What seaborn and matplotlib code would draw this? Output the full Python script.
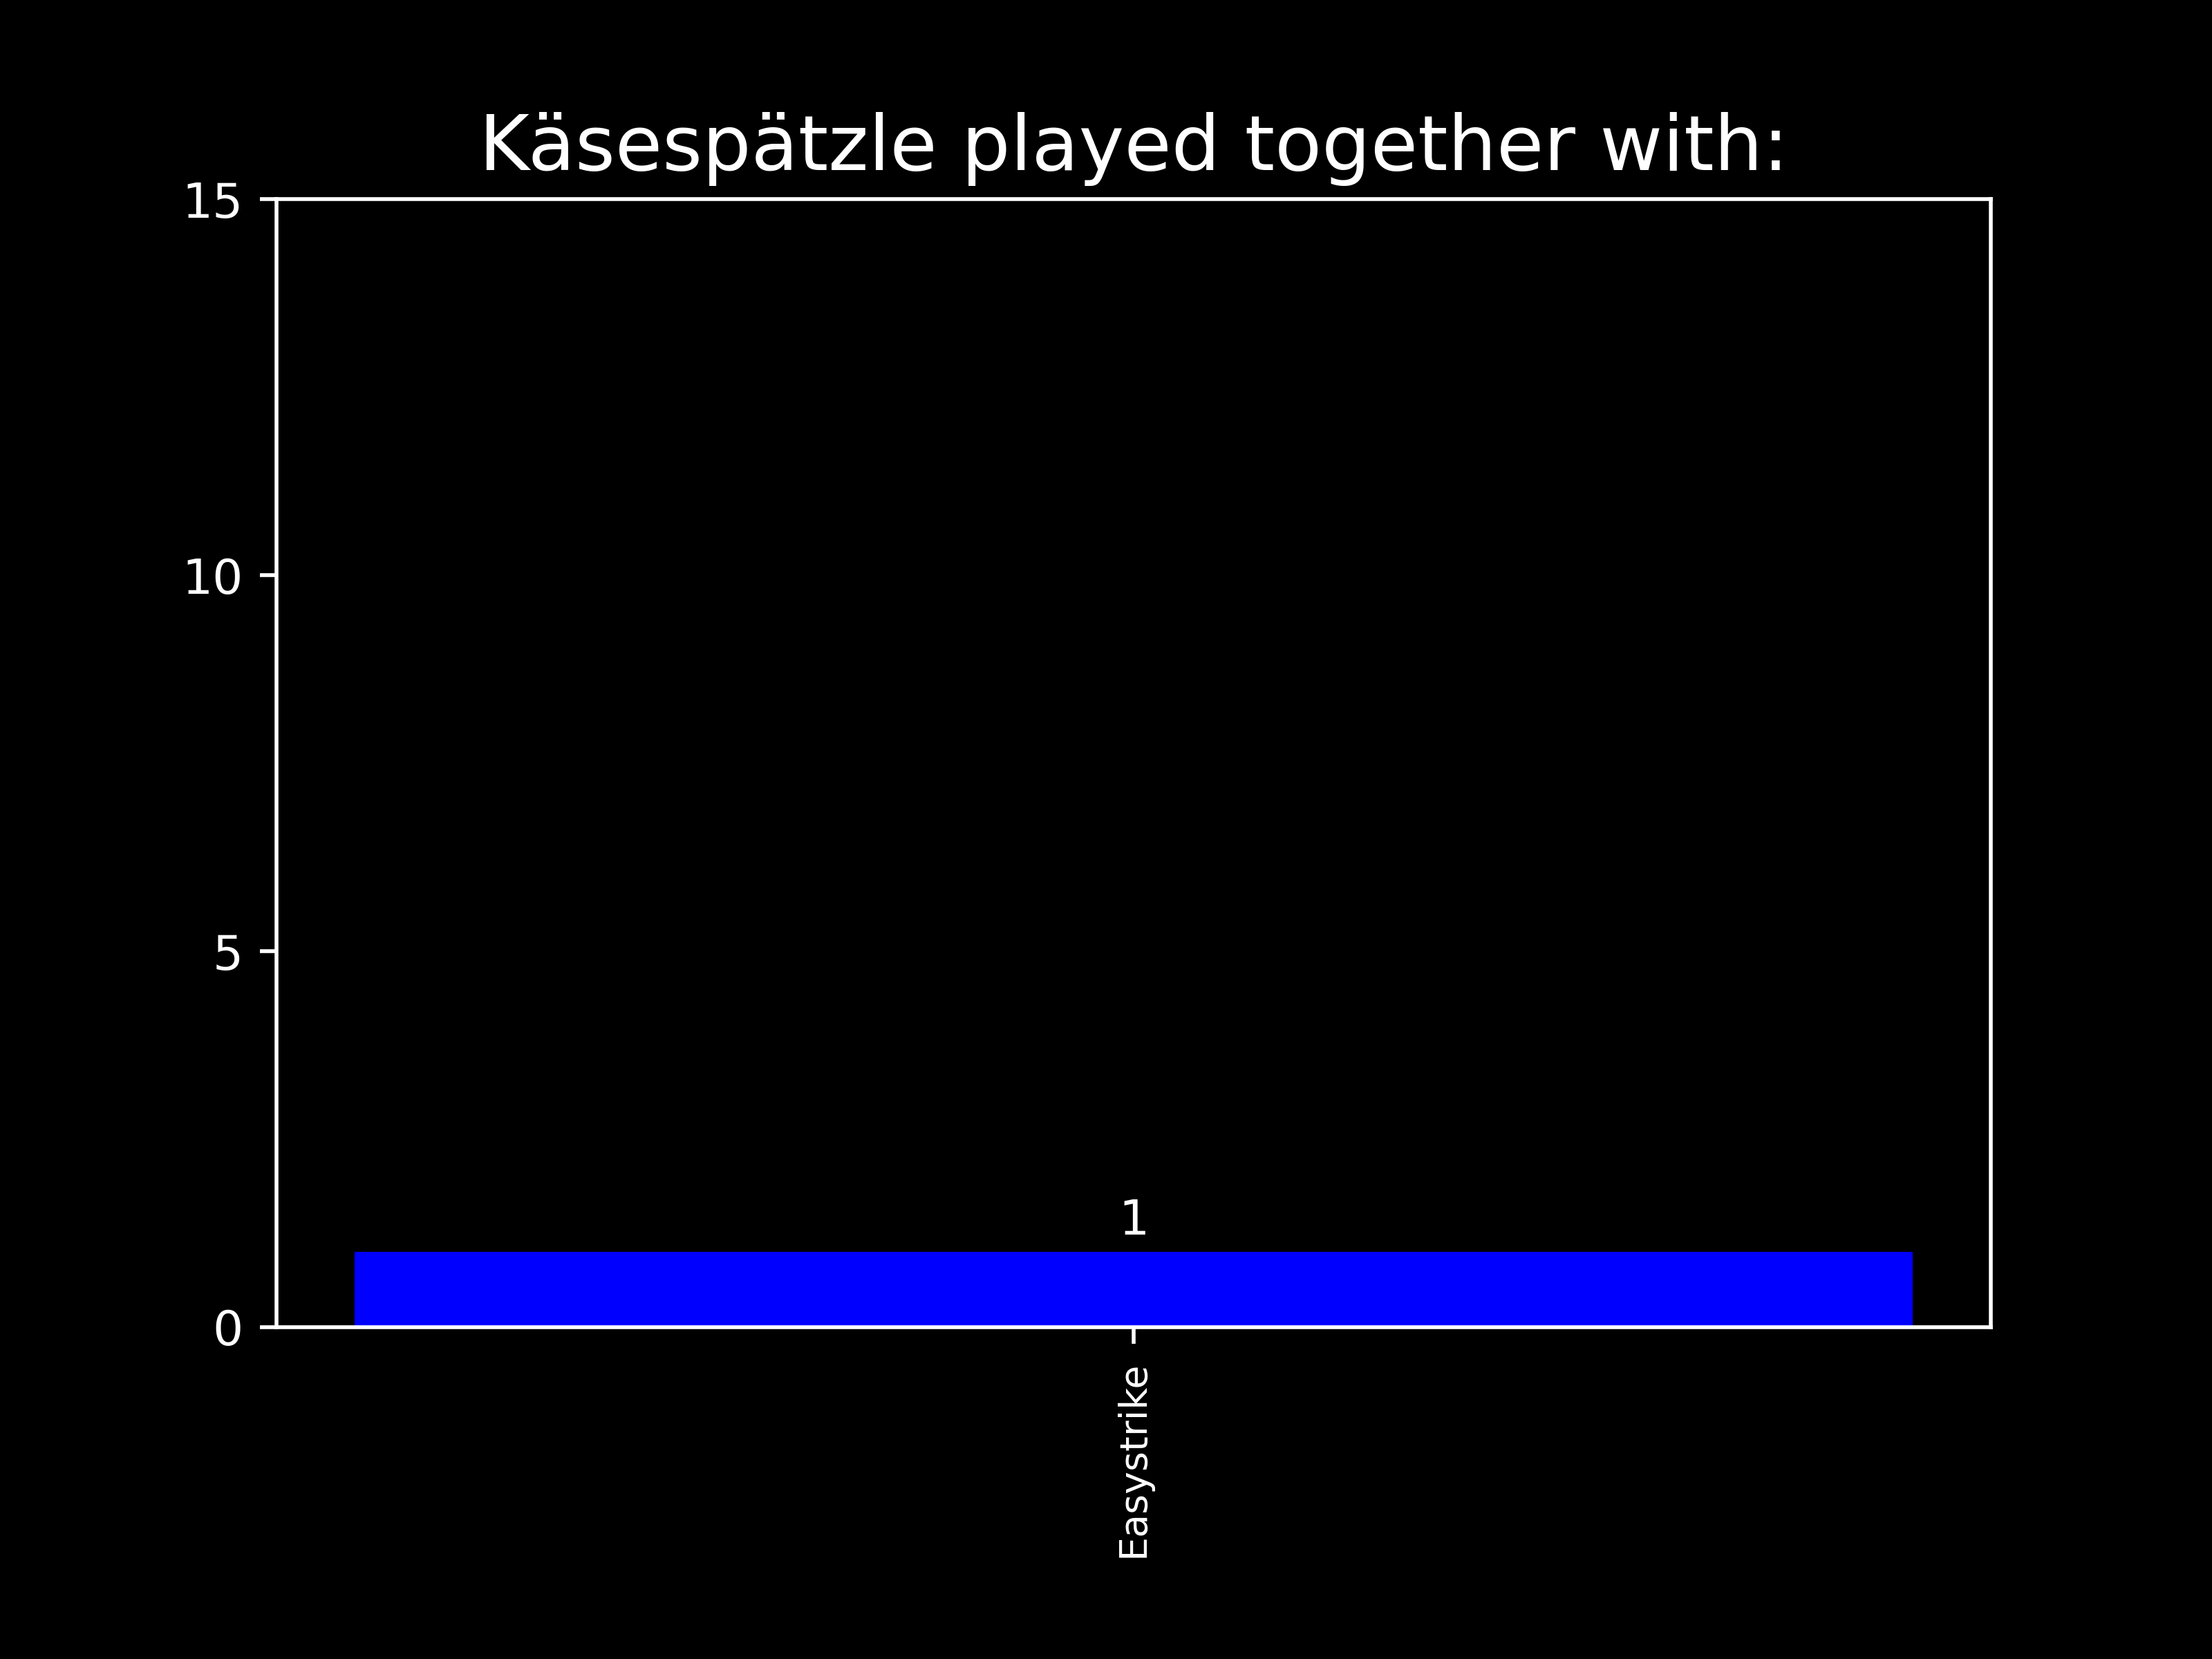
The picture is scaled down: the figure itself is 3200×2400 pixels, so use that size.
import matplotlib
matplotlib.use("Agg")
import matplotlib.pyplot as plt
import seaborn as sns
import pandas as pd

player = "Käsespätzle"
teammates = ["Easystrike"]
games_together = [1]

plt.style.use("dark_background")
df = pd.DataFrame({"Player": teammates, "Games": games_together})

fig, ax = plt.subplots(figsize=(6.4, 4.8), dpi=500)
fig.subplots_adjust(left=0.125, right=0.9, top=0.88, bottom=0.2)

sns.barplot(data=df, x="Player", y="Games", color="blue", saturation=1, width=0.8, ax=ax)

# same x padding matplotlib would use for plain bars
n = len(teammates)
span = (n - 1) + 0.8
ax.set_xlim(-0.4 - 0.05 * span, n - 1 + 0.4 + 0.05 * span)
ax.set_ylim(0, 15)
ax.set_yticks([0, 5, 10, 15])

for container in ax.containers:
    ax.bar_label(container, padding=1.6, color="white", fontsize=10)

ax.set_title(f"{player} played together with:", fontsize=16, color="white")
ax.set_xlabel("")
ax.set_ylabel("")
ax.tick_params(axis="x", labelrotation=90, labelsize=8)
ax.tick_params(axis="y", labelsize=10)
for spine in ax.spines.values():
    spine.set_visible(True)
    spine.set_color("white")

fig.savefig("out.png", dpi=500, facecolor="black")
